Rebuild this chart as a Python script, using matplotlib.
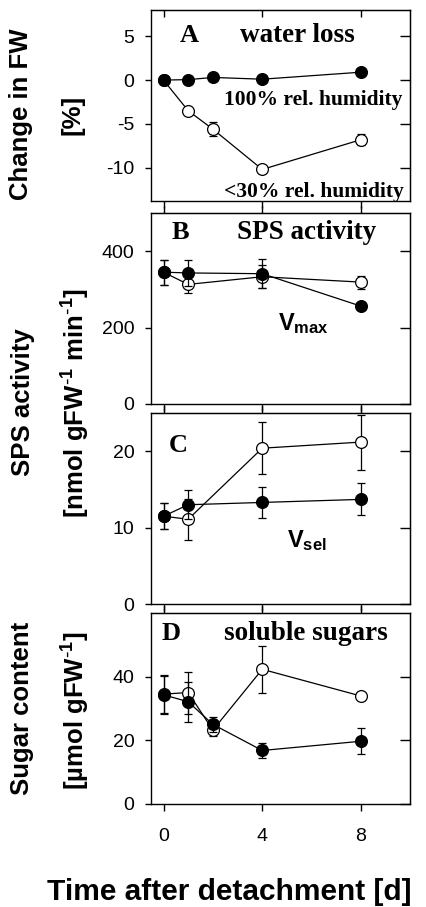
import matplotlib
matplotlib.use("Agg")
import matplotlib.pyplot as plt

plt.rcParams['font.family'] = ['Liberation Sans', 'DejaVu Sans']
plt.rcParams['mathtext.default'] = 'regular'

# Sampling days after detachment
days = [0, 1, 2, 4, 8]
days_sps = [0, 1, 4, 8]
x_ticks = [0, 4, 8]

# A: change in fresh weight [%]
fw_humid = [0.0, 0.05, 0.3, 0.1, 0.9]
fw_humid_err = [0.2, 0.2, 0.2, 0.2, 0.2]
fw_dry = [0.0, -3.5, -5.6, -10.2, -6.8]
fw_dry_err = [0.2, 0.3, 0.8, 0.4, 0.6]

# B: SPS Vmax [nmol gFW-1 min-1]
vmax_humid = [345, 343, 341, 256]
vmax_humid_err = [33, 35, 38, 6]
vmax_dry = [345, 313, 333, 319]
vmax_dry_err = [33, 22, 30, 17]

# C: SPS Vsel [nmol gFW-1 min-1]
vsel_humid = [11.5, 13.0, 13.3, 13.7]
vsel_humid_err = [1.7, 1.9, 2.0, 2.1]
vsel_dry = [11.5, 11.1, 20.4, 21.2]
vsel_dry_err = [1.7, 2.7, 3.4, 3.6]

# D: soluble sugars [umol gFW-1]
sugar_humid = [34.3, 32.1, 25.0, 16.8, 19.7]
sugar_humid_err = [5.9, 6.2, 2.4, 2.3, 4.1]
sugar_dry = [34.5, 35.0, 23.2, 42.3, 33.9]
sugar_dry_err = [5.9, 6.6, 1.7, 7.3, 1.2]

fig = plt.figure(figsize=(4.27, 9.07), dpi=100)

left, width, height = 0.354, 0.607, 0.2106
bottoms = [0.7784, 0.5546, 0.3340, 0.1136]
axes = [fig.add_axes([left, b, width, height]) for b in bottoms]

serif = ['Liberation Serif', 'DejaVu Serif']


def series(ax, x, y, err, filled, z):
    ax.errorbar(x, y, yerr=err, fmt='-o', color='black', lw=0.9,
                elinewidth=0.9, capsize=3.2, capthick=0.9, ms=8.5,
                mfc='black' if filled else 'white', mec='black', mew=0.9,
                zorder=z, clip_on=False)


def style(ax, yticks, ylim, top_dir, show_x):
    ax.set_xlim(-0.5, 10)
    ax.set_ylim(*ylim)
    ax.set_xticks(x_ticks)
    ax.set_yticks(yticks)
    for s in ax.spines.values():
        s.set_linewidth(1.0)
    ax.tick_params(axis='x', direction='out', length=5, width=1, pad=12,
                   labelsize=14, labelbottom=show_x)
    ax.tick_params(axis='y', direction='out', length=4, width=1, pad=8,
                   labelsize=14)
    sx = ax.secondary_xaxis('top')
    sx.set_xticks(x_ticks)
    sx.tick_params(direction=top_dir, length=5, width=1, labeltop=False)
    sy = ax.secondary_yaxis('right')
    sy.set_yticks(yticks)
    sy.tick_params(direction='in', length=7, width=1, labelright=False)


axA, axB, axC, axD = axes

series(axA, days, fw_dry, fw_dry_err, False, 2)
series(axA, days, fw_humid, fw_humid_err, True, 3)
style(axA, [5, 0, -5, -10], (-13.8, 8), 'in', False)
axA.set_yticklabels(['5', '0', '-5', '-10'])
axA.text(0.112, 0.864, 'A', transform=axA.transAxes, fontsize=19,
         fontweight='bold', family=serif, va='center')
axA.text(0.344, 0.864, 'water loss', transform=axA.transAxes, fontsize=19.5,
         fontweight='bold', family=serif, va='center')
axA.text(0.625, 0.529, '100% rel. humidity', transform=axA.transAxes,
         fontsize=15.5, fontweight='bold', family=serif, va='center', ha='center')
axA.text(0.629, 0.045, '<30% rel. humidity', transform=axA.transAxes,
         fontsize=15.5, fontweight='bold', family=serif, va='center', ha='center')

series(axB, days_sps, vmax_dry, vmax_dry_err, False, 2)
series(axB, days_sps, vmax_humid, vmax_humid_err, True, 3)
style(axB, [0, 200, 400], (0, 500), 'out', False)
axB.text(0.08, 0.90, 'B', transform=axB.transAxes, fontsize=19,
         fontweight='bold', family=serif, va='center')
axB.text(0.60, 0.90, 'SPS activity', transform=axB.transAxes, fontsize=19.5,
         fontweight='bold', family=serif, va='center', ha='center')
axB.text(0.49, 0.423, r'V$_{max}$', transform=axB.transAxes, fontsize=17,
         fontweight='bold', va='center')

series(axC, days_sps, vsel_dry, vsel_dry_err, False, 2)
series(axC, days_sps, vsel_humid, vsel_humid_err, True, 3)
style(axC, [0, 10, 20], (0, 25), 'out', False)
axC.text(0.066, 0.83, 'C', transform=axC.transAxes, fontsize=19,
         fontweight='bold', family=serif, va='center')
axC.text(0.525, 0.335, r'V$_{sel}$', transform=axC.transAxes, fontsize=17,
         fontweight='bold', va='center')

series(axD, days, sugar_dry, sugar_dry_err, False, 2)
series(axD, days, sugar_humid, sugar_humid_err, True, 3)
style(axD, [0, 20, 40], (0, 60), 'out', True)
axD.text(0.039, 0.895, 'D', transform=axD.transAxes, fontsize=19,
         fontweight='bold', family=serif, va='center')
axD.text(0.597, 0.895, 'soluble sugars', transform=axD.transAxes, fontsize=19.5,
         fontweight='bold', family=serif, va='center', ha='center')

# Axis titles
lab = dict(rotation=90, ha='center', va='center', fontweight='bold')
fig.text(0.049, 0.874, 'Change in FW', fontsize=18.5, **lab)
fig.text(0.169, 0.873, '[%]', fontsize=18.5, **lab)
fig.text(0.054, 0.557, 'SPS activity', fontsize=18.5, **lab)
fig.text(0.178, 0.556, r'[nmol gFW$^{\text{-}1}$ min$^{\text{-}1}$]',
         fontsize=18.5, **lab)
fig.text(0.052, 0.219, 'Sugar content', fontsize=18.5, **lab)
fig.text(0.178, 0.217, r'[µmol gFW$^{\text{-}1}$]', fontsize=18.5, **lab)
fig.text(0.536, 0.0075, 'Time after detachment [d]', fontsize=21.5,
         fontweight='bold', ha='center', va='baseline')

fig.savefig('out.png', dpi=100)
